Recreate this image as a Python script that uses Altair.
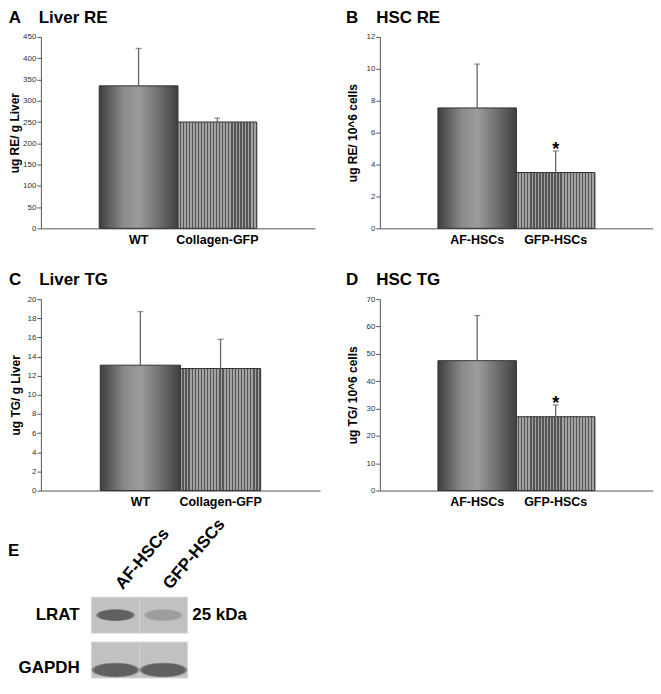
import altair as alt
import pandas as pd

FONT = "Liberation Sans"

# ---------------- data ----------------
liver_groups = ["WT", "Collagen-GFP"]
hsc_groups = ["AF-HSCs", "GFP-HSCs"]

a_means = [335, 250]
a_errs = [88, 9]
a_sig = ["", ""]
a_ticks = [0, 50, 100, 150, 200, 250, 300, 350, 400, 450]

b_means = [7.55, 3.5]
b_errs = [2.75, 1.35]
b_sig = ["", "*"]
b_ticks = [0, 2, 4, 6, 8, 10, 12]

c_means = [13.1, 12.75]
c_errs = [5.6, 3.05]
c_sig = ["", ""]
c_ticks = [0, 2, 4, 6, 8, 10, 12, 14, 16, 18, 20]

d_means = [47.5, 27.0]
d_errs = [16.5, 4.3]
d_sig = ["", "*"]
d_ticks = [0, 10, 20, 30, 40, 50, 60, 70]

blot_lanes = ["AF-HSCs", "GFP-HSCs"]
blot_rows = ["LRAT", "GAPDH"]
lrat_intensity = [0.95, 0.3]
gapdh_intensity = [0.97, 0.95]
lrat_marker = "25 kDa"

# ---------------- styles ----------------
solid_grad = alt.LinearGradient(
    gradient="linear", x1=0, x2=1, y1=0, y2=0,
    stops=[
        alt.GradientStop(color="#3e3e3e", offset=0),
        alt.GradientStop(color="#8a8a8a", offset=0.3),
        alt.GradientStop(color="#9c9c9c", offset=0.5),
        alt.GradientStop(color="#6a6a6a", offset=0.78),
        alt.GradientStop(color="#404040", offset=1),
    ],
)

N_STRIPES = 26
stripe_stops = []
for i in range(N_STRIPES):
    a = i / N_STRIPES
    m = (i + 0.6) / N_STRIPES
    b = (i + 1) / N_STRIPES
    stripe_stops += [
        alt.GradientStop(color="#a2a2a2", offset=a),
        alt.GradientStop(color="#a2a2a2", offset=m),
        alt.GradientStop(color="#555555", offset=m),
        alt.GradientStop(color="#555555", offset=b),
    ]
stripe_grad = alt.LinearGradient(gradient="linear", x1=0, x2=1, y1=0, y2=0, stops=stripe_stops)


def bar_panel(letter, name, groups, means, errs, sig, ticks, ytitle, width, title_pad):
    df = pd.DataFrame({
        "group": groups,
        "mean": means,
        "top": [m + e for m, e in zip(means, errs)],
        "sig": sig,
        "idx": list(range(len(groups))),
    })
    xs = alt.Scale(paddingInner=0, paddingOuter=0.74)
    xaxis = alt.Axis(ticks=False, labelAngle=0, labelFont=FONT, labelFontSize=12.5,
                     labelFontWeight="bold", labelColor="#000", labelPadding=5,
                     domainColor="#555")
    x = alt.X("group:N", sort=groups, scale=xs, title=None, axis=xaxis)
    ys = alt.Scale(domain=[ticks[0], ticks[-1]], nice=False)
    yaxis = alt.Axis(values=ticks, grid=False, labelOverlap=False, labelFont=FONT, labelFontSize=8,
                     labelColor="#333", tickColor="#555", domainColor="#555",
                     tickSize=4, labelPadding=1, titleFont=FONT, titleFontSize=12,
                     titleFontWeight="bold", titleColor="#000", titlePadding=title_pad)

    def Y(field):
        return alt.Y(field, scale=ys, title=ytitle, axis=yaxis)

    base = alt.Chart(df)
    bar1 = base.transform_filter("datum.idx == 0").mark_bar(
        fill=solid_grad, stroke="#333", strokeWidth=1).encode(x=x, y=Y("mean:Q"))
    bar2 = base.transform_filter("datum.idx == 1").mark_bar(
        fill=stripe_grad, stroke="#333", strokeWidth=1).encode(x=x, y=Y("mean:Q"))
    rule = base.mark_rule(color="#666", strokeWidth=1.3).encode(
        x=x, y=Y("mean:Q"), y2="top:Q")
    cap = base.mark_tick(color="#666", size=6, thickness=1.3).encode(x=x, y=Y("top:Q"))
    star = base.mark_text(font=FONT, fontSize=18, fontWeight="bold", baseline="alphabetic",
                          dy=4, color="#000").encode(x=x, y=Y("top:Q"), text="sig:N")
    return alt.layer(bar1, bar2, rule, cap, star).properties(
        width=width, height=192,
        title=alt.TitleParams(letter + "\u2002\u00a0\u00a0" + name, anchor="start", frame="bounds",
                              font=FONT, fontSize=17, fontWeight="bold", color="#000", offset=6),
    )


A = bar_panel("A", "Liver RE", liver_groups, a_means, a_errs, a_sig, a_ticks,
              "ug RE/ g Liver", 275, 1)
B = bar_panel("B", "HSC RE", hsc_groups, b_means, b_errs, b_sig, b_ticks,
              "ug RE/ 10^6 cells", 274, 7)
C = bar_panel("C", "Liver TG", liver_groups, c_means, c_errs, c_sig, c_ticks,
              "ug TG/ g Liver", 280, 5)
D = bar_panel("D", "HSC TG", hsc_groups, d_means, d_errs, d_sig, d_ticks,
              "ug TG/ 10^6 cells", 274, 7)

# ---------------- western blot (panel E) ----------------
blot_df = pd.DataFrame(
    [{"lane": l, "row": "LRAT", "intensity": v} for l, v in zip(blot_lanes, lrat_intensity)]
    + [{"lane": l, "row": "GAPDH", "intensity": v} for l, v in zip(blot_lanes, gapdh_intensity)]
)
lane_df = pd.DataFrame({"lane": blot_lanes, "row": ["LRAT"] * len(blot_lanes)})
row_df = pd.DataFrame({"row": blot_rows, "lane": [blot_lanes[0]] * len(blot_rows)})
kda_df = pd.DataFrame({"row": ["LRAT"], "lane": [blot_lanes[-1]], "label": [lrat_marker]})
letter_df = pd.DataFrame({"letter": ["E"]})

E_W, E_H = 192, 117
xs_E = alt.Scale(domain=blot_lanes, paddingInner=0, paddingOuter=1, align=0.53)
ys_E = alt.Scale(domain=blot_rows, paddingInner=0.2, paddingOuter=0.4, align=1)


def XE(pos=0.5):
    return alt.X("lane:N", scale=xs_E, axis=None, bandPosition=pos)


def YE(pos=0.5):
    return alt.Y("row:N", scale=ys_E, axis=None, bandPosition=pos)


ELLIPSE = "M-1,0A1,0.3,0,1,0,1,0A1,0.3,0,1,0,-1,0Z"

bg = alt.Chart(blot_df).mark_rect(fill="#c1c1c1", stroke="#d2d2d2", strokeWidth=1).encode(
    x=alt.X("lane:N", scale=xs_E, axis=None), y=alt.Y("row:N", scale=ys_E, axis=None))


def band_layer(row, pos, size, halo):
    return alt.Chart(blot_df).transform_filter(alt.datum.row == row).mark_point(
        shape=ELLIPSE, filled=True, color="#262626", size=size * (1.2 if halo else 1.0),
        strokeWidth=0).encode(
        x=XE(), y=YE(pos),
        opacity=alt.Opacity("intensity:Q",
                            scale=alt.Scale(domain=[0, 1], range=[0, 0.4 if halo else 0.95]),
                            legend=None))


lane_text = alt.Chart(lane_df).mark_text(
    font=FONT, fontSize=17, fontWeight="bold", align="left", baseline="middle", angle=310,
    dx=10, dy=-4, color="#000").encode(x=XE(), y=YE(0), text="lane:N")


def row_text(row, pos):
    return alt.Chart(row_df).transform_filter(alt.datum.row == row).mark_text(
        font=FONT, fontSize=17, fontWeight="bold", align="right", baseline="middle",
        dx=-12, color="#000").encode(x=XE(0), y=YE(pos), text="row:N")


kda = alt.Chart(kda_df).mark_text(font=FONT, fontSize=17, fontWeight="bold", align="left",
                                  baseline="middle", dx=5, color="#000").encode(
    x=XE(1), y=YE(0.5), text="label:N")

letter = alt.Chart(letter_df).mark_text(font=FONT, fontSize=17, fontWeight="bold", align="left",
                                        baseline="middle", color="#000").encode(
    x=alt.value(-33), y=alt.value(-10), text="letter:N")

E = alt.layer(
    bg,
    band_layer("LRAT", 0.5, 1250, True), band_layer("LRAT", 0.5, 1250, False),
    band_layer("GAPDH", 0.78, 1936, True), band_layer("GAPDH", 0.78, 1936, False),
    lane_text, row_text("LRAT", 0.5), row_text("GAPDH", 0.72), kda, letter,
).properties(width=E_W, height=E_H)

chart = alt.concat(A, B, C, D, E, columns=2).properties(
    align="each", bounds="flush", spacing={"row": 71, "column": 60},
    padding={"left": 0, "top": 0, "right": 0, "bottom": 0},
    background="white",
).configure_view(stroke=None)

chart.save("out.html", embed_options={"renderer": "svg", "actions": False})
